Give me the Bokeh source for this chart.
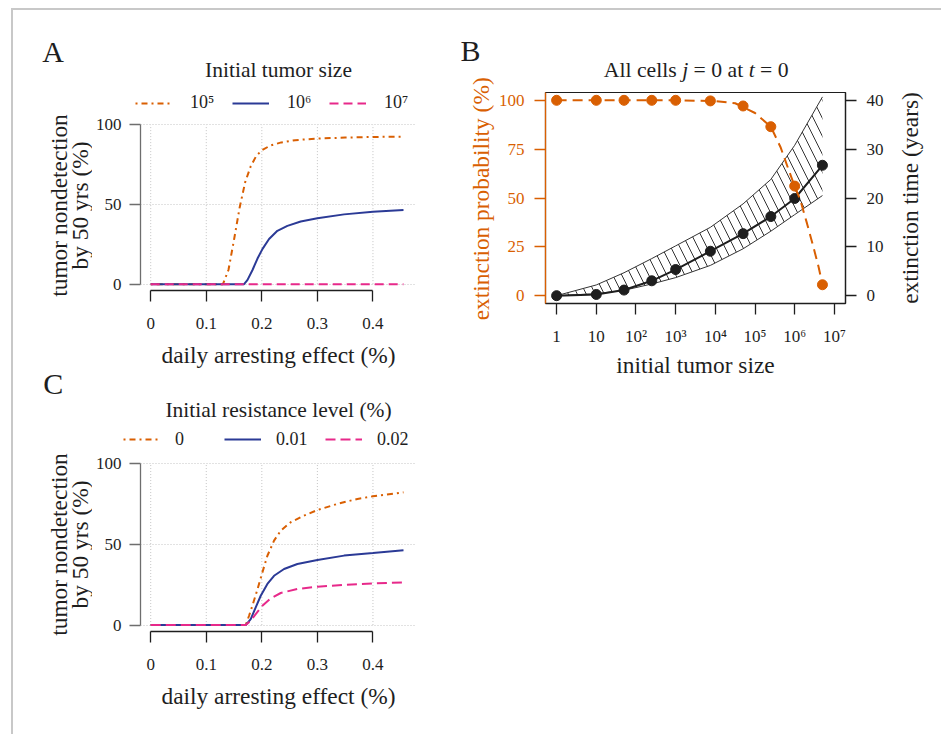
import numpy as np
from bokeh.plotting import figure
from bokeh.models import Range1d, LinearAxis, FixedTicker, Legend, LegendItem, Spacer
from bokeh.layouts import row, column
from bokeh.embed import file_html
from bokeh.resources import INLINE
from bokeh.core.properties import value

FONT = "Liberation Serif"
ORANGE = "#D95F02"
BLUE = "#2B3A96"
PINK = "#E7298A"
DARK = "#1E1E1E"
GRID = "#C4C4C4"
PAGE_LINE = "#C8C8C8"

# ---------------- data: panel A (initial tumor size) ----------------
a_x_1e5 = [0, 0.10, 0.13, 0.14, 0.15, 0.16, 0.17, 0.18, 0.19, 0.20, 0.215, 0.235, 0.26, 0.30, 0.35, 0.40, 0.455]
a_y_1e5 = [0, 0, 0, 9, 28, 48, 64, 74, 80.5, 84, 87, 89, 90.4, 91.4, 92.0, 92.4, 92.6]
a_x_1e6 = [0, 0.168, 0.174, 0.183, 0.192, 0.201, 0.213, 0.228, 0.246, 0.27, 0.30, 0.348, 0.40, 0.455]
a_y_1e6 = [0, 0, 2.5, 8.7, 15.9, 22.0, 28.3, 33.5, 36.6, 39.3, 41.3, 43.8, 45.5, 46.5]
a_x_1e7 = [0, 0.455]
a_y_1e7 = [0, 0]
a_legend_labels = ["10\u2075", "10\u2076", "10\u2077"]

# ---------------- data: panel C (initial resistance level) ----------------
c_x_r0 = [0, 0.171, 0.177, 0.183, 0.192, 0.201, 0.21, 0.222, 0.234, 0.252, 0.276, 0.30, 0.336, 0.372, 0.40, 0.455]
c_y_r0 = [0, 0, 5.8, 12, 22, 32.7, 43, 52.4, 58.6, 63.8, 67.9, 71.4, 75.2, 78.3, 79.9, 82.4]
c_x_r1 = [0, 0.171, 0.18, 0.189, 0.198, 0.21, 0.222, 0.24, 0.264, 0.30, 0.348, 0.40, 0.455]
c_y_r1 = [0, 0, 3.7, 11, 18.2, 25.5, 30.6, 34.8, 37.9, 40.4, 43.1, 44.7, 46.4]
c_x_r2 = [0, 0.171, 0.18, 0.189, 0.201, 0.216, 0.234, 0.264, 0.30, 0.348, 0.40, 0.455]
c_y_r2 = [0, 0, 2.7, 6.8, 12, 16.6, 19.9, 22.4, 23.8, 25.0, 25.9, 26.5]
c_legend_labels = ["0", "0.01", "0.02"]

x_ticks_ac = [0, 0.1, 0.2, 0.3, 0.4]
x_tick_labels_ac = ["0", "0.1", "0.2", "0.3", "0.4"]
y_ticks_ac = [0, 50, 100]

# ---------------- data: panel B ----------------
b_size = [1, 10, 50, 250, 1000, 7500, 50000, 250000, 1000000, 5000000]
b_ext_prob = [100, 100, 100, 100, 100, 99.7, 97.1, 86.5, 56.1, 5.6]
b_ext_time = [0, 0.25, 1.15, 3.05, 5.35, 9.1, 12.7, 16.2, 19.9, 26.7]
b_time_upper = [0, 2.2, 4.7, 7.6, 10.2, 14.0, 18.8, 23.8, 30.8, 40.7]
b_time_lower = [0, 0.4, 1.1, 2.4, 3.7, 6.2, 9.6, 13.2, 16.6, 20.5]
b_curve_size = [1, 1000, 10000, 31600, 100000, 250000, 440000, 660000, 1000000,
                1380000, 2040000, 2950000, 4000000, 5000000]
b_curve_prob = [100, 100, 99.6, 98.5, 93.5, 86.5, 76, 66, 55.9, 49, 37, 25, 14.7, 5.6]

b_x_ticks = [1, 10, 100, 1000, 10000, 100000, 1000000, 10000000]
b_x_tick_labels = ["1", "10", "10\u00b2", "10\u00b3", "10\u2074", "10\u2075", "10\u2076", "10\u2077"]
b_prob_ticks = [0, 25, 50, 75, 100]
b_time_ticks = [0, 10, 20, 30, 40]

# ---------------- geometry (page pixels) ----------------
OX, OY = 13, 10              # content origin (inside the page border)
LEFT_W, RIGHT_W = 437, 491
YLAB_W = 79                  # strip holding the two-line y label of A and C
MAIN_W = LEFT_W - YLAB_W
MID = 0.34                   # distance (in em) from text-box centre to baseline


def strip(width, height, px0, py0):
    """A blank figure whose frame fills it; data units = page pixels (y negated)."""
    s = figure(width=width, height=height,
               x_range=Range1d(px0, px0 + width), y_range=Range1d(-(py0 + height), -py0),
               min_border=0, x_axis_location=None, y_axis_location=None,
               output_backend="svg", toolbar_location=None)
    s.frame_align = False
    s.grid.visible = False
    s.outline_line_color = None
    s.background_fill_color = "white"
    s.border_fill_color = "white"
    return s


def put_text(s, px, base, txt, fs, align="left", color=DARK, style="normal", rotated=False):
    """Place text so that its baseline sits at `base` (page y, or page x when rotated)."""
    if rotated:
        x, y, angle = base - MID * fs, -px, np.pi / 2
    else:
        x, y, angle = px, -(base - MID * fs), 0.0
    s.text(x=[x], y=[y], text=[txt], angle=angle,
           text_font=value(FONT), text_font_size=value(f"{fs}px"), text_font_style=value(style),
           text_color=value(color), text_align=value(align), text_baseline=value("middle"))


def style_axis(ax, col, standoff, lab_col=DARK):
    ax.axis_line_color = col
    ax.axis_line_width = 1.3
    ax.major_tick_line_color = col
    ax.major_tick_line_width = 1.3
    ax.major_tick_out = 11
    ax.major_tick_in = 0
    ax.minor_tick_line_color = None
    ax.major_label_text_font = FONT
    ax.major_label_text_font_size = "17px"
    ax.major_label_text_color = lab_col
    ax.major_label_standoff = standoff
    ax.axis_label_text_font = FONT
    ax.axis_label_text_font_size = "23.4px"
    ax.axis_label_text_font_style = "normal"
    ax.axis_label_text_color = DARK


def add_title_legend(s, px0, py0, height, title, title_base, series, labels, leg):
    put_text(s, 278, title_base, title, 21.5, align="center")
    # legend keys: same series and styles, their marks fall outside this strip's frame
    rs = [s.line(xs, ys, line_color=c, line_width=2, line_dash=d) for xs, ys, c, d in series]
    left, center_y, standoff, lw, spacing = leg
    vy = (py0 + height) - (center_y + 11)
    legend = Legend(items=[LegendItem(label=l, renderers=[r]) for l, r in zip(labels, rs)],
                    location=(left - px0, vy), orientation="horizontal",
                    glyph_width=37, glyph_height=22, label_height=22, label_width=lw,
                    label_standoff=standoff, spacing=spacing, padding=0, margin=0,
                    border_line_color=None, background_fill_alpha=0,
                    label_text_font=FONT, label_text_font_size="18px", label_text_color=DARK)
    s.add_layout(legend)


def add_ylab(s, center_y):
    put_text(s, center_y, 66.8, "tumor nondetection", 23.4, align="center", rotated=True)
    put_text(s, center_y, 87.0, "by 50 yrs (%)", 23.4, align="center", rotated=True)


def make_main(height, mbt, curves):
    FW, FH = 276, 174
    mbl = 140 - (OX + YLAB_W)
    p = figure(width=MAIN_W, height=height,
               x_range=Range1d(-0.0184, 0.4784), y_range=Range1d(-4, 104),
               min_border_left=mbl, min_border_right=MAIN_W - mbl - FW,
               min_border_top=mbt, min_border_bottom=height - mbt - FH,
               output_backend="svg", toolbar_location=None)
    p.frame_align = False
    p.outline_line_color = None
    p.background_fill_color = "white"
    p.border_fill_color = "white"
    p.xgrid.visible = False
    p.ygrid.ticker = FixedTicker(ticks=y_ticks_ac)
    p.ygrid.grid_line_color = GRID
    p.ygrid.grid_line_dash = "1 2"
    p.multi_line(xs=[[t, t] for t in x_ticks_ac],
                 ys=[[y_ticks_ac[0], y_ticks_ac[-1]] for _ in x_ticks_ac],
                 line_color=GRID, line_dash="1 2", line_width=1)
    xa = p.xaxis[0]
    xa.ticker = FixedTicker(ticks=x_ticks_ac)
    xa.major_label_overrides = dict(zip(x_ticks_ac, x_tick_labels_ac))
    xa.bounds = (x_ticks_ac[0], x_ticks_ac[-1])
    ya = p.yaxis[0]
    ya.ticker = FixedTicker(ticks=y_ticks_ac)
    ya.bounds = (y_ticks_ac[0], y_ticks_ac[-1])
    style_axis(xa, DARK, 16)
    style_axis(ya, "#6E6E6E", 8)
    xa.axis_label = "daily arresting effect (%)"
    xa.axis_label_standoff = 10
    for xs, ys, color, dash in curves:
        p.line(xs, ys, line_color=color, line_width=2, line_dash=dash)
    return p


A_TOP_H, A_MAIN_H = 104, 256      # page y 10-114, 114-370
C_TOP_H, C_MAIN_H = 82, 282       # page y 370-452, 452-734
A_MAIN_Y = OY + A_TOP_H
C_TOP_Y = A_MAIN_Y + A_MAIN_H
C_MAIN_Y = C_TOP_Y + C_TOP_H

a_series = [(a_x_1e5, a_y_1e5, ORANGE, "2 4 6 4"), (a_x_1e6, a_y_1e6, BLUE, "solid"),
            (a_x_1e7, a_y_1e7, PINK, "9 5")]
c_series = [(c_x_r0, c_y_r0, ORANGE, "2 4 6 4"), (c_x_r1, c_y_r1, BLUE, "solid"),
            (c_x_r2, c_y_r2, PINK, "10 5")]

# A: header strip (letter, title, legend)
pa_top = strip(LEFT_W, A_TOP_H, OX, OY)
put_text(pa_top, 41.7, 60.7, "A", 30)
add_title_legend(pa_top, OX, OY, A_TOP_H, "Initial tumor size", 77.3, a_series,
                 a_legend_labels, (135, 102.5, 18, 30, 12))
# left strip next to A and C's header: A's y label and the letter C
pa_ylab = strip(YLAB_W, A_MAIN_H + C_TOP_H, OX, A_MAIN_Y)
add_ylab(pa_ylab, A_MAIN_Y + 4 + 87)
put_text(pa_ylab, 42.7, 393.3, "C", 30)
pa = make_main(A_MAIN_H, 4, a_series)
pc_top = strip(MAIN_W, C_TOP_H, OX + YLAB_W, C_TOP_Y)
add_title_legend(pc_top, OX + YLAB_W, C_TOP_Y, C_TOP_H, "Initial resistance level (%)", 416.7,
                 c_series, c_legend_labels, (123, 439.3, 15, 36, 13))
pc_ylab = strip(YLAB_W, C_MAIN_H, OX, C_MAIN_Y)
add_ylab(pc_ylab, C_MAIN_Y + 5 + 87)
pc = make_main(C_MAIN_H, 5, c_series)

# ---------------- panel B ----------------
BX0 = OX + LEFT_W                 # page x 450
B_LEFT_W = 45                     # page x 450-495
B_RIGHT_W = 51                    # page x 890-941
B_MID_W = RIGHT_W - B_LEFT_W      # page x 495-941
B_TOP_H, B_MAIN_H = 76, 314       # page y 10-86, 86-400
BFW, BFH = 300, 211

pb_left = strip(B_LEFT_W, B_TOP_H + B_MAIN_H, BX0, OY)
put_text(pb_left, 460, 60, "B", 30)
put_text(pb_left, 198.3, 488.5, "extinction probability (%)", 23.4, align="center",
         color=ORANGE, rotated=True)

pb_top = strip(B_MID_W, B_TOP_H, BX0 + B_LEFT_W, OY)
TS = 21.7
for txt, off, st in [("All cells", 0.0, "normal"), ("j", 3.611, "italic"), ("= 0 at", 4.139, "normal"),
                     ("t", 6.675, "italic"), ("= 0", 7.203, "normal")]:
    put_text(pb_top, 603.3 + off * TS, 76.7, txt, TS, style=st)

pb_right = strip(B_RIGHT_W, B_MAIN_H, BX0 + RIGHT_W - B_RIGHT_W, OY + B_TOP_H)
put_text(pb_right, 197.5, 917.3, "extinction time (years)", 23.4, align="center", rotated=True)

lx0, lx1 = -0.28, 7.28
PB_W = B_MID_W - B_RIGHT_W
pb = figure(width=PB_W, height=B_MAIN_H, x_axis_type="log",
            x_range=Range1d(10 ** lx0, 10 ** lx1), y_range=Range1d(-4, 104),
            min_border_left=50, min_border_right=PB_W - 50 - BFW,
            min_border_top=6, min_border_bottom=B_MAIN_H - 6 - BFH,
            output_backend="svg", toolbar_location=None)
pb.frame_align = False
pb.extra_y_ranges = {"time": Range1d(-1.6, 41.6)}
pb.add_layout(LinearAxis(y_range_name="time"), "right")
pb.outline_line_color = DARK
pb.outline_line_width = 1.2
pb.xgrid.visible = False
pb.ygrid.visible = False
pb.background_fill_color = "white"
pb.border_fill_color = "white"

bx = pb.xaxis[0]
bx.ticker = FixedTicker(ticks=b_x_ticks)
bx.major_label_overrides = dict(zip(b_x_ticks, b_x_tick_labels))
bl = pb.yaxis[0]
bl.ticker = FixedTicker(ticks=b_prob_ticks)
br = pb.yaxis[1]
br.ticker = FixedTicker(ticks=b_time_ticks)
style_axis(bx, DARK, 12)
style_axis(bl, ORANGE, 10, lab_col=ORANGE)
style_axis(br, DARK, 10)
bx.axis_label = "initial tumor size"
bx.axis_label_standoff = 3

pb.varea(x=b_size, y1=b_time_lower, y2=b_time_upper, y_range_name="time",
         fill_color="white", fill_alpha=0, hatch_pattern="\\", hatch_color="#333333",
         hatch_scale=18, hatch_weight=1)
pb.line(b_size, b_time_upper, y_range_name="time", line_color="#333333", line_width=1)
pb.line(b_size, b_time_lower, y_range_name="time", line_color="#333333", line_width=1)
pb.line(b_size, b_ext_time, y_range_name="time", line_color=DARK, line_width=2)
pb.scatter(b_size, b_ext_time, y_range_name="time", size=10, fill_color=DARK, line_color=DARK)
pb.line(b_curve_size, b_curve_prob, line_color=ORANGE, line_width=2, line_dash="10 6")
pb.scatter(b_size, b_ext_prob, size=10, fill_color=ORANGE, line_color=ORANGE)

left_col = column(pa_top,
                  row(pa_ylab, column(pa, pc_top)),
                  row(pc_ylab, pc))
right_col = column(row(pb_left, column(pb_top, row(pb, pb_right))),
                   Spacer(width=RIGHT_W, height=724 - B_TOP_H - B_MAIN_H))
content = row(left_col, right_col)
outer = row(
    Spacer(width=11, height=734),
    column(
        Spacer(width=930, height=8),
        Spacer(width=930, height=2, styles={"background-color": PAGE_LINE}),
        row(Spacer(width=2, height=724, styles={"background-color": PAGE_LINE}), content),
    ),
)

with open("out.html", "w") as f:
    f.write(file_html(outer, INLINE))
